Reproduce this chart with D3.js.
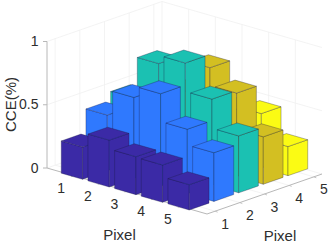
<!DOCTYPE html>
<html>
<head>
<meta charset="utf-8">
<script src="https://cdn.jsdelivr.net/npm/d3@7"></script>
<style>
html, body { margin: 0; padding: 0; background: white; }
text { font-family: "Liberation Sans", Arial, sans-serif; fill: #2e2e2e; }
</style>
</head>
<body>
<svg id="chart" width="330" height="244"></svg>
<script>
var xTicks = [1, 2, 3, 4, 5];
var yTicks = [1, 2, 3, 4, 5];
var zTicks = [0, 0.5, 1];
var zLabels = ["0", "0.5", "1"];

// one list per row of bars, pixel 1 to 5 along x
var row1 = [0.255, 0.37, 0.30, 0.295, 0.20];
var row2 = [0.44, 0.64, 0.73, 0.51, 0.385];
var row3 = [0.51, 0.84, 0.905, 0.68, 0.45];
var row4 = [0.25, 0.55, 0.80, 0.66, 0.375];
var row5 = [0.10, 0.20, 0.40, 0.43, 0.23];
var rows = [row1, row2, row3, row4, row5];
var rowColors = ["#3b2aa6", "#2f79fe", "#1bc1b2", "#d3bf22", "#fbfb14"];

var svg = d3.select("#chart");

var xLim = [0, 6], yLim = [0.67, 5.33], zLim = [0, 1];
var halfBar = 0.4;

// oblique projection: each data axis adds its own screen offset
var xToPx = d3.scaleLinear().domain(xLim).range([0, 160]);
var xToPy = d3.scaleLinear().domain(xLim).range([0, 46]);
var yToPx = d3.scaleLinear().domain(yLim).range([0, 115]);
var yToPy = d3.scaleLinear().domain(yLim).range([0, -40]);
var zToPy = d3.scaleLinear().domain(zLim).range([0, -126.5]);
var originX = 47, originY = 168;

function project(x, y, z) {
    return [originX + xToPx(x) + yToPx(y), originY + xToPy(x) + yToPy(y) + zToPy(z)];
}

function drawLine(g, a, b, color, w) {
    g.append("line")
        .attr("x1", a[0]).attr("y1", a[1])
        .attr("x2", b[0]).attr("y2", b[1])
        .attr("stroke", color)
        .attr("stroke-width", w);
}

// grid on the walls and the floor
var grid = svg.append("g");
var gridColor = "#f0f0f0";

xTicks.forEach(function (t) {
    drawLine(grid, project(t, yLim[0], 0), project(t, yLim[1], 0), gridColor, 0.8);
    drawLine(grid, project(t, yLim[1], 0), project(t, yLim[1], 1), gridColor, 0.8);
});
yTicks.forEach(function (t) {
    drawLine(grid, project(xLim[0], t, 0), project(xLim[1], t, 0), gridColor, 0.8);
    drawLine(grid, project(xLim[0], t, 0), project(xLim[0], t, 1), gridColor, 0.8);
});
zTicks.forEach(function (t) {
    drawLine(grid, project(xLim[0], yLim[0], t), project(xLim[0], yLim[1], t), gridColor, 0.8);
    drawLine(grid, project(xLim[0], yLim[1], t), project(xLim[1], yLim[1], t), gridColor, 0.8);
});
drawLine(grid, project(xLim[0], yLim[1], 0), project(xLim[0], yLim[1], 1), gridColor, 0.8);

// axis lines and ticks
var axisColor = "#b8b8b8";
var axes = svg.append("g");
drawLine(axes, project(xLim[0], yLim[0], 0), project(xLim[0], yLim[0], 1), axisColor, 1);
drawLine(axes, project(xLim[0], yLim[0], 0), project(xLim[1], yLim[0], 0), axisColor, 1);
drawLine(axes, project(xLim[1], yLim[0], 0), project(xLim[1], yLim[1], 0), axisColor, 1);

zTicks.forEach(function (t, i) {
    var p = project(xLim[0], yLim[0], t);
    drawLine(axes, p, [p[0] - 4, p[1]], axisColor, 1);
    axes.append("text")
        .attr("x", p[0] - 8.5)
        .attr("y", p[1] + 4.5)
        .attr("text-anchor", "end")
        .attr("font-size", 14)
        .text(zLabels[i]);
});

xTicks.forEach(function (t) {
    var p = project(t, yLim[0], 0);
    drawLine(axes, p, [p[0] - 2.5, p[1] + 1], axisColor, 0.8);
    axes.append("text")
        .attr("x", p[0] - 12.5)
        .attr("y", p[1] + 17.5)
        .attr("text-anchor", "middle")
        .attr("font-size", 14)
        .text(t);
});

yTicks.forEach(function (t) {
    var p = project(xLim[1], t, 0);
    drawLine(axes, p, [p[0] + 2.5, p[1] + 1], axisColor, 0.8);
    axes.append("text")
        .attr("x", p[0] + 10)
        .attr("y", p[1] + 17.5)
        .attr("text-anchor", "middle")
        .attr("font-size", 14)
        .text(t);
});

svg.append("text")
    .attr("transform", "translate(16,104.5) rotate(-90)")
    .attr("text-anchor", "middle")
    .attr("font-size", 15)
    .text("CCE(%)");
svg.append("text")
    .attr("x", 119.5).attr("y", 240)
    .attr("text-anchor", "middle")
    .attr("font-size", 15)
    .text("Pixel");
svg.append("text")
    .attr("x", 280).attr("y", 241)
    .attr("text-anchor", "middle")
    .attr("font-size", 15)
    .text("Pixel");

// bars, painted from the back corner to the front
var bars = [];
xTicks.forEach(function (x, i) {
    yTicks.slice().reverse().forEach(function (y) {
        bars.push({ x: x, y: y, z: rows[y - 1][i], color: rowColors[y - 1] });
    });
});

var line = d3.line();

function barFaces(d) {
    var x0 = d.x - halfBar, x1 = d.x + halfBar, y0 = d.y - halfBar, y1 = d.y + halfBar;
    return [
        [project(x0, y0, 0), project(x1, y0, 0), project(x1, y0, d.z), project(x0, y0, d.z)],
        [project(x1, y0, 0), project(x1, y1, 0), project(x1, y1, d.z), project(x1, y0, d.z)],
        [project(x0, y0, d.z), project(x1, y0, d.z), project(x1, y1, d.z), project(x0, y1, d.z)]
    ];
}

var barG = svg.selectAll(".bar")
    .data(bars)
    .enter()
    .append("g")
    .attr("class", "bar");

barG.selectAll("path")
    .data(function (d) {
        return barFaces(d).map(function (f) { return { pts: f, color: d.color }; });
    })
    .enter()
    .append("path")
    .attr("d", function (f) { return line(f.pts) + "Z"; })
    .attr("fill", function (f) { return f.color; })
    .attr("stroke", "#1a1a40")
    .attr("stroke-opacity", 0.45)
    .attr("stroke-width", 0.7)
    .attr("stroke-linejoin", "round");
</script>
</body>
</html>
